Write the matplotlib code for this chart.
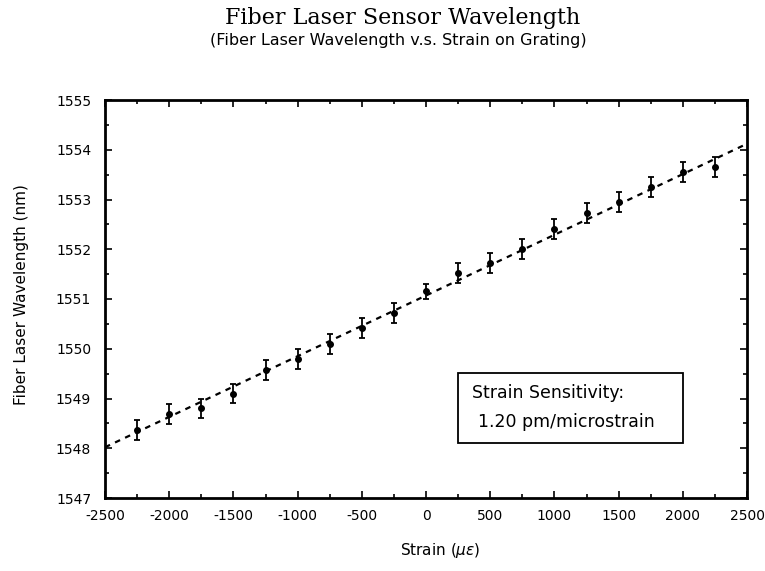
import numpy as np
import matplotlib
matplotlib.use("Agg")
import matplotlib.pyplot as plt
from matplotlib.ticker import MultipleLocator

# ---- data ----
strain = [-2250, -2000, -1750, -1500, -1250, -1000, -750, -500, -250, 0,
          250, 500, 750, 1000, 1250, 1500, 1750, 2000, 2250]
wavelength = [1548.37, 1548.68, 1548.80, 1549.10, 1549.58, 1549.80, 1550.10,
              1550.41, 1550.72, 1551.16, 1551.52, 1551.72, 1552.01, 1552.41,
              1552.72, 1552.95, 1553.25, 1553.55, 1553.65]
err = [0.2, 0.2, 0.2, 0.2, 0.2, 0.2, 0.2, 0.2, 0.2, 0.15,
       0.2, 0.2, 0.2, 0.2, 0.2, 0.2, 0.2, 0.2, 0.2]
fit_slope = 1.22e-3      # nm per microstrain (dashed fit line)
fit_intercept = 1551.07  # nm at zero strain
x_ticks = [-2500, -2000, -1500, -1000, -500, 0, 500, 1000, 1500, 2000, 2500]
y_ticks = [1547, 1548, 1549, 1550, 1551, 1552, 1553, 1554, 1555]

fig = plt.figure(figsize=(7.65, 5.71), dpi=100)
ax = fig.add_axes([105/765, 1-498/571, (747-105)/765, (498-100)/571])

xf = np.array([x_ticks[0], x_ticks[-1]])
ax.plot(xf, fit_intercept + fit_slope*xf, color='black', lw=1.6,
        linestyle=(0, (2.5, 2.5)), zorder=2)
ax.errorbar(strain, wavelength, yerr=err, fmt='o', color='black', ms=4,
            ecolor='black', elinewidth=1.3, capsize=2.5, capthick=1.3, zorder=3)

ax.set_xlim(x_ticks[0], x_ticks[-1])
ax.set_ylim(y_ticks[0], y_ticks[-1])
ax.set_xticks(x_ticks)
ax.set_yticks(y_ticks)
ax.xaxis.set_minor_locator(MultipleLocator(250))
ax.yaxis.set_minor_locator(MultipleLocator(0.5))
ax.set_xticklabels([str(v) for v in x_ticks])
ax.set_yticklabels([str(v) for v in y_ticks])
ax.tick_params(which='both', direction='in', top=True, right=True, width=1.2)
ax.tick_params(which='major', length=5, labelsize=10, pad=8)
ax.tick_params(which='minor', length=3)
ax.tick_params(axis='y', pad=10)
for s in ax.spines.values():
    s.set_linewidth(2)

fig.text(22/765, 1-295/571, 'Fiber Laser Wavelength (nm)', rotation=90,
         ha='center', va='center', fontsize=11)
fig.text(440/765, 1-551/571, r'Strain ($\mu\varepsilon$)', ha='center',
         va='center', fontsize=11)

fig.text(403/765, 1-18/571, 'Fiber Laser Sensor Wavelength', ha='center',
         va='center', fontsize=16, family='DejaVu Serif')
fig.text(398/765, 1-41/571, '(Fiber Laser Wavelength v.s. Strain on Grating)',
         ha='center', va='center', fontsize=11.5)

# annotation box
bx0, bx1, by0, by1 = 458, 683, 373, 443
fig.patches.append(plt.Rectangle((bx0/765, 1-by1/571), (bx1-bx0)/765,
                                 (by1-by0)/571, transform=fig.transFigure,
                                 fill=False, lw=1.3, edgecolor='black'))
fig.text(472/765, 1-393/571, 'Strain Sensitivity:', ha='left', va='center',
         fontsize=12.5)
fig.text(478/765, 1-422/571, '1.20 pm/microstrain', ha='left', va='center',
         fontsize=12.5)

fig.savefig('out.png', dpi=100)
